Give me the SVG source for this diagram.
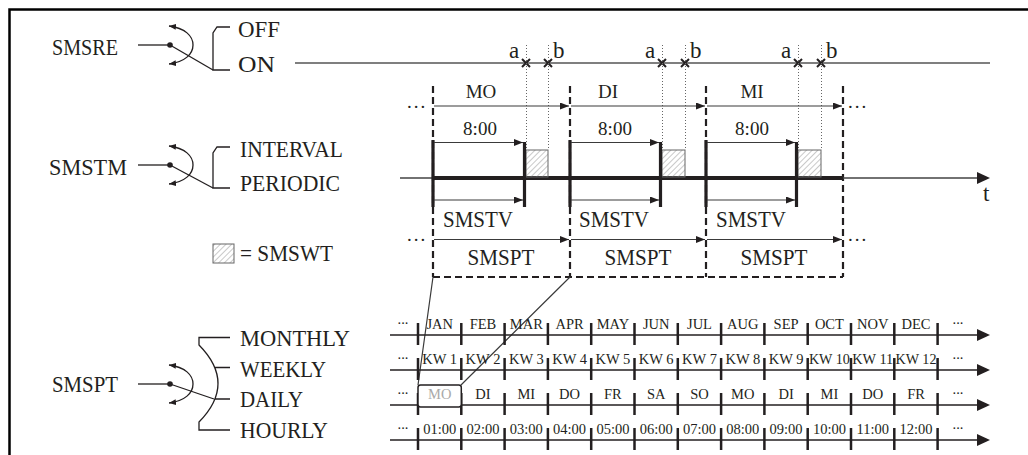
<svg xmlns="http://www.w3.org/2000/svg" width="1028" height="455" viewBox="0 0 1028 455">
<style>
text{font-family:"Liberation Serif","DejaVu Serif",serif;fill:#231f20}
.L{font-size:23px}
.M{font-size:19px}
.S{font-size:14.5px}
.mid{text-anchor:middle}
.ln{stroke:#231f20;stroke-width:1.3;fill:none}
.thin{stroke:#3a3a3a;stroke-width:1.2;fill:none}
.dash{stroke:#231f20;stroke-width:2.2;stroke-dasharray:7 4;fill:none}
.dot{stroke:#666;stroke-width:1;stroke-dasharray:1 2;fill:none}
.ax{stroke:#231f20;stroke-width:1.5;fill:none}
.tk{stroke:#231f20;stroke-width:2.5}
.bold{stroke:#231f20;stroke-width:3.2;fill:none}
.hatch{fill:url(#hp);stroke:#666;stroke-width:1}
.cross{stroke:#231f20;stroke-width:2;fill:none}
.sarc{stroke:#231f20;stroke-width:1.3;fill:none;marker-start:url(#sa);marker-end:url(#sa)}
.arr{marker-end:url(#ah)}
.head{fill:#231f20}
</style>
<defs>
<marker id="ah" viewBox="0 0 9 7" refX="9" refY="3.5" markerWidth="9" markerHeight="7" markerUnits="userSpaceOnUse" orient="auto"><path d="M0,0 L9,3.5 L0,7 z" fill="#231f20"/></marker>
<marker id="sa" viewBox="0 0 7 6" refX="7" refY="3" markerWidth="7" markerHeight="6" markerUnits="userSpaceOnUse" orient="auto-start-reverse"><path d="M0,0 L7,3 L0,6 z" fill="#231f20"/></marker>
<pattern id="hp" patternUnits="userSpaceOnUse" width="4" height="4" patternTransform="rotate(45)"><line x1="0" y1="0" x2="0" y2="4" stroke="#777" stroke-width="0.8"/></pattern>
</defs>

<g id="frame"><path d="M9.5,455 V9.5 H1028" stroke="#000" stroke-width="2.5" fill="none"/></g>

<g id="sw-smsre">
<text class="L" x="52" y="55" textLength="66" lengthAdjust="spacingAndGlyphs">SMSRE</text>
<path class="ln" d="M138,45 H168"/>
<circle cx="170" cy="45" r="2.8" fill="#231f20"/>
<path class="ln" d="M170,45 L213,70"/>
<path class="sarc" d="M169,26 C185,28 193,36 193,45 C193,54 185,62 169,64"/>
<path class="ln" d="M230,27 H217 L213,33 V70 H230"/>
<text class="L" x="238" y="37" textLength="42" lengthAdjust="spacingAndGlyphs">OFF</text>
<text class="L" x="238" y="72" textLength="37" lengthAdjust="spacingAndGlyphs">ON</text>
</g>

<g id="sw-smstm">
<text class="L" x="49" y="175" textLength="78" lengthAdjust="spacingAndGlyphs">SMSTM</text>
<path class="ln" d="M138,165 H168"/>
<circle cx="170" cy="165" r="2.8" fill="#231f20"/>
<path class="ln" d="M170,165 L213,188"/>
<path class="sarc" d="M169,146 C185,148 193,156 193,165 C193,174 185,182 169,184"/>
<path class="ln" d="M230,147 H217 L213,153 V188 H230"/>
<text class="L" x="240" y="157" textLength="103" lengthAdjust="spacingAndGlyphs">INTERVAL</text>
<text class="L" x="240" y="191" textLength="100" lengthAdjust="spacingAndGlyphs">PERIODIC</text>
</g>

<g id="legend">
<rect class="hatch" x="213" y="244" width="21" height="19"/>
<text class="L" x="240" y="261" textLength="93" lengthAdjust="spacingAndGlyphs">= SMSWT</text>
</g>

<g id="sw-smspt">
<text class="L" x="52" y="392" textLength="66" lengthAdjust="spacingAndGlyphs">SMSPT</text>
<path class="ln" d="M138,384 H168"/>
<circle cx="170" cy="384" r="2.8" fill="#231f20"/>
<path class="ln" d="M170,384 L214,399"/>
<path class="sarc" d="M169,365 C185,367 193,375 193,384 C193,393 185,401 169,403"/>
<path class="ln" d="M230,337.5 H199 V345 Q237,383.5 199,422 V430 H230 M214.6,367.5 H230 M215,399 H230"/>
<text class="L" x="240" y="346" textLength="110" lengthAdjust="spacingAndGlyphs">MONTHLY</text>
<text class="L" x="240" y="377" textLength="86" lengthAdjust="spacingAndGlyphs">WEEKLY</text>
<text class="L" x="240" y="407" textLength="63" lengthAdjust="spacingAndGlyphs">DAILY</text>
<text class="L" x="240" y="438" textLength="88" lengthAdjust="spacingAndGlyphs">HOURLY</text>
</g>

<g id="on-line">
<path d="M295,63 H990" stroke="#555" stroke-width="1.5" fill="none"/>
<path class="cross" d="M522,59 L530,67 M530,59 L522,67 M544,59 L552,67 M552,59 L544,67"/>
<path class="cross" d="M658,59 L666,67 M666,59 L658,67 M681,59 L689,67 M689,59 L681,67"/>
<path class="cross" d="M794,59 L802,67 M802,59 L794,67 M817,59 L825,67 M825,59 L817,67"/>
<text class="L" x="509" y="58">a</text><text class="L" x="553" y="58">b</text>
<text class="L" x="645" y="58">a</text><text class="L" x="690" y="58">b</text>
<text class="L" x="781" y="58">a</text><text class="L" x="826" y="58">b</text>
<path class="dot" d="M526.5,45 V150 M548.5,45 V150 M662.5,45 V150 M685.5,45 V150 M798.5,45 V150 M821.5,45 V150"/>
</g>

<g id="timeline">
<path class="dash" d="M433,86 V277 M570,86 V277 M706,86 V277 M843,86 V277 M433,277 H843"/>
<path d="M400,178 H433 M843,178 H978" stroke="#444" stroke-width="1.5" fill="none"/>
<polygon class="head" points="977,172 990,178 977,184"/>
<text class="L" x="983" y="201">t</text>
<path d="M433,178 H843" stroke="#231f20" stroke-width="4" fill="none"/>
<rect class="hatch" x="526" y="150" width="22" height="27"/>
<rect class="hatch" x="662" y="150" width="23" height="27"/>
<rect class="hatch" x="798" y="150" width="23" height="27"/>
<path class="bold" d="M433,140 V207 M570,140 V207 M706,140 V207 M524.5,142 V207 M660.5,142 V207 M796.5,142 V207"/>
<text class="M mid" x="481" y="98">MO</text>
<text class="M mid" x="608" y="98">DI</text>
<text class="M mid" x="752" y="98">MI</text>
<text class="M mid" x="480" y="135">8:00</text>
<text class="M mid" x="615" y="135">8:00</text>
<text class="M mid" x="752" y="135">8:00</text>
<text class="L" x="443" y="227" textLength="70" lengthAdjust="spacingAndGlyphs">SMSTV</text>
<text class="L" x="579" y="227" textLength="70" lengthAdjust="spacingAndGlyphs">SMSTV</text>
<text class="L" x="716" y="227" textLength="70" lengthAdjust="spacingAndGlyphs">SMSTV</text>
<text class="L mid" x="501" y="265" textLength="67" lengthAdjust="spacingAndGlyphs">SMSPT</text>
<text class="L mid" x="638" y="265" textLength="67" lengthAdjust="spacingAndGlyphs">SMSPT</text>
<text class="L mid" x="774" y="265" textLength="67" lengthAdjust="spacingAndGlyphs">SMSPT</text>
<text class="M" x="407" y="108" letter-spacing="2">...</text>
<text class="M" x="848" y="108" letter-spacing="2">...</text>
<text class="M" x="407" y="241" letter-spacing="2">...</text>
<text class="M" x="848" y="241" letter-spacing="2">...</text>
</g>

<g id="connectors">
<path class="thin arr" d="M434,106 H569"/>
<path class="thin arr" d="M571,106 H705"/>
<path class="thin arr" d="M707,106 H842"/>
<path class="thin arr" d="M434,142.5 H523"/>
<path class="thin arr" d="M571,142.5 H659"/>
<path class="thin arr" d="M707,142.5 H795"/>
<path class="thin arr" d="M434,200 H523"/>
<path class="thin arr" d="M571,200 H659"/>
<path class="thin arr" d="M707,200 H795"/>
<path class="thin arr" d="M434,239.5 H569"/>
<path class="thin arr" d="M571,239.5 H705"/>
<path class="thin arr" d="M707,239.5 H842"/>
<path class="thin" d="M433,277 L418,385 M570,277 L461,385"/>
</g>

<g id="row-month">
<path class="ax" d="M390,335 H978"/><polygon class="head" points="977,329 990,335 977,341"/>
<path class="tk" d="M418,323 V345 M461.3,323 V345 M504.6,323 V345 M547.9,323 V345 M591.2,323 V345 M634.5,323 V345 M677.8,323 V345 M721.1,323 V345 M764.4,323 V345 M807.7,323 V345 M851,323 V345 M894.3,323 V345 M937.6,323 V345"/>
<g class="S mid">
<text x="403" y="324">...</text>
<text x="439.7" y="329">JAN</text><text x="483" y="329">FEB</text><text x="526.3" y="329">MAR</text><text x="569.6" y="329">APR</text><text x="612.9" y="329">MAY</text><text x="656.2" y="329">JUN</text><text x="699.5" y="329">JUL</text><text x="742.8" y="329">AUG</text><text x="786.1" y="329">SEP</text><text x="829.4" y="329">OCT</text><text x="872.7" y="329">NOV</text><text x="916" y="329">DEC</text>
<text x="958" y="324">...</text>
</g>
</g>

<g id="row-week">
<path class="ax" d="M390,370 H978"/><polygon class="head" points="977,364 990,370 977,376"/>
<path class="tk" d="M418,358 V380 M461.3,358 V380 M504.6,358 V380 M547.9,358 V380 M591.2,358 V380 M634.5,358 V380 M677.8,358 V380 M721.1,358 V380 M764.4,358 V380 M807.7,358 V380 M851,358 V380 M894.3,358 V380 M937.6,358 V380"/>
<g class="S mid">
<text x="403" y="359">...</text>
<text x="439.7" y="364">KW 1</text><text x="483" y="364">KW 2</text><text x="526.3" y="364">KW 3</text><text x="569.6" y="364">KW 4</text><text x="612.9" y="364">KW 5</text><text x="656.2" y="364">KW 6</text><text x="699.5" y="364">KW 7</text><text x="742.8" y="364">KW 8</text><text x="786.1" y="364">KW 9</text><text x="829.4" y="364" textLength="41" lengthAdjust="spacingAndGlyphs">KW 10</text><text x="872.7" y="364" textLength="41" lengthAdjust="spacingAndGlyphs">KW 11</text><text x="916" y="364" textLength="41" lengthAdjust="spacingAndGlyphs">KW 12</text>
<text x="958" y="359">...</text>
</g>
</g>

<g id="row-day">
<path class="ax" d="M390,405 H978"/><polygon class="head" points="977,399 990,405 977,411"/>
<path class="tk" d="M418,393 V415 M461.3,393 V415 M504.6,393 V415 M547.9,393 V415 M591.2,393 V415 M634.5,393 V415 M677.8,393 V415 M721.1,393 V415 M764.4,393 V415 M807.7,393 V415 M851,393 V415 M894.3,393 V415 M937.6,393 V415"/>
<rect x="418" y="385" width="43.3" height="22" rx="2.5" fill="#fff" stroke="#231f20" stroke-width="1.5"/>
<g class="S mid">
<text x="403" y="394">...</text>
<text x="439.7" y="399" style="fill:#aaa">MO</text><text x="483" y="399">DI</text><text x="526.3" y="399">MI</text><text x="569.6" y="399">DO</text><text x="612.9" y="399">FR</text><text x="656.2" y="399">SA</text><text x="699.5" y="399">SO</text><text x="742.8" y="399">MO</text><text x="786.1" y="399">DI</text><text x="829.4" y="399">MI</text><text x="872.7" y="399">DO</text><text x="916" y="399">FR</text>
<text x="958" y="394">...</text>
</g>
</g>

<g id="row-hour">
<path class="ax" d="M390,440 H978"/><polygon class="head" points="977,434 990,440 977,446"/>
<path class="tk" d="M418,428 V450 M461.3,428 V450 M504.6,428 V450 M547.9,428 V450 M591.2,428 V450 M634.5,428 V450 M677.8,428 V450 M721.1,428 V450 M764.4,428 V450 M807.7,428 V450 M851,428 V450 M894.3,428 V450 M937.6,428 V450"/>
<g class="S mid">
<text x="403" y="429">...</text>
<text x="439.7" y="434">01:00</text><text x="483" y="434">02:00</text><text x="526.3" y="434">03:00</text><text x="569.6" y="434">04:00</text><text x="612.9" y="434">05:00</text><text x="656.2" y="434">06:00</text><text x="699.5" y="434">07:00</text><text x="742.8" y="434">08:00</text><text x="786.1" y="434">09:00</text><text x="829.4" y="434">10:00</text><text x="872.7" y="434">11:00</text><text x="916" y="434">12:00</text>
<text x="958" y="429">...</text>
</g>
</g>
</svg>
